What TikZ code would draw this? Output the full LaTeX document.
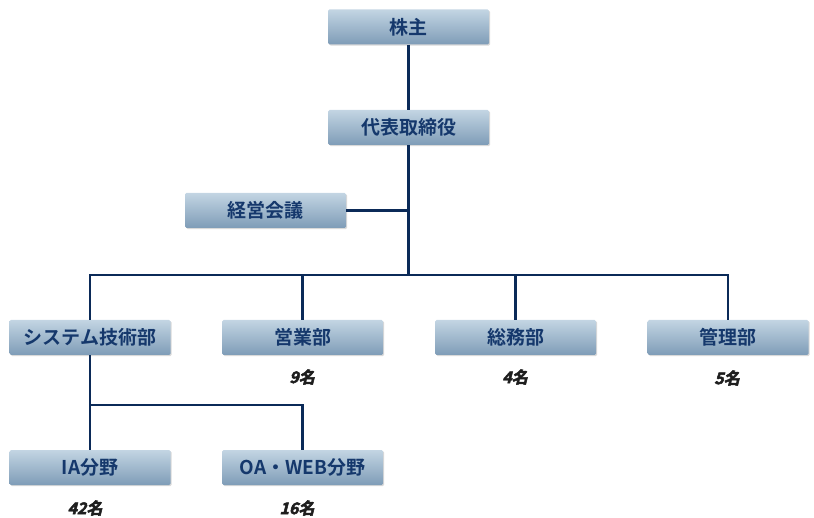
\documentclass[tikz,border=0pt]{standalone}
\usepackage{fontspec}
\usetikzlibrary{shadows}
\newfontfamily\jp{Noto Sans CJK JP}[UprightFont=* Bold]
\newfontfamily\jpcnt{Noto Sans CJK JP}[UprightFont=* Bold, FakeSlant=0.25, FakeBold=3]
\definecolor{boxtop}{HTML}{C3D5E3}
\definecolor{boxmid}{HTML}{A9C1D4}
\definecolor{boxbot}{HTML}{7E9CB7}
\definecolor{txt}{HTML}{15386C}
\definecolor{ln}{HTML}{0B2A58}
\definecolor{cnt}{HTML}{1E1E1E}
\tikzset{
  orgbox/.style={rectangle, rounded corners=1.5pt, minimum width=161pt, minimum height=35pt,
    top color=boxtop, middle color=boxmid, bottom color=boxbot, draw=none,
    drop shadow={shadow xshift=1.2pt, shadow yshift=-1.2pt, opacity=0.25, fill=black!60},
    font=\jp\fontsize{19pt}{19pt}\selectfont, text=txt, inner sep=0pt},
  conn/.style={draw=ln, line width=2.2pt},
  count/.style={font=\jpcnt\fontsize{16pt}{16pt}\selectfont, text=cnt, inner sep=0pt}
}
\begin{document}
\begin{tikzpicture}[x=1pt,y=-1pt]
\useasboundingbox (0,0) rectangle (814,518);
\node[orgbox] (kabu) at (408.5,27) {株主};
\node[orgbox] (daihyo) at (408.5,127.5) {代表取締役};
\node[orgbox] (keiei) at (265.5,210.5) {経営会議};
\node[orgbox] (sys) at (90,337.5) {システム技術部};
\node[orgbox] (eigyo) at (302.5,337.5) {営業部};
\node[orgbox] (somu) at (515.5,337.5) {総務部};
\node[orgbox] (kanri) at (728,337.5) {管理部};
\node[orgbox] (ia) at (90,467.5) {IA分野};
\node[orgbox] (oa) at (302.5,467.5) {OA・WEB分野};
\node[count] (c9) at (302,377) {9名};
\node[count] (c4) at (515,377) {4名};
\node[count] (c5) at (727,378) {5名};
\node[count] (c42) at (85,508) {42名};
\node[count] (c16) at (297,508) {16名};
\coordinate (bus) at (408.5,275);
\coordinate (sysj) at (91,405);
\draw[conn] (kabu.south) -- (daihyo.north);
\draw[conn] (daihyo.south) -- (bus);
\draw[conn] (keiei.east) -- (keiei.east -| daihyo.south);
\draw[conn] (sys.north) |- (bus) -| (kanri.north);
\draw[conn] (eigyo.north) -- (eigyo.north |- bus);
\draw[conn] (somu.north) -- (somu.north |- bus);
\draw[conn] (sys.south) -- (ia.north);
\draw[conn] (sysj) -| (oa.north);
\end{tikzpicture}
\end{document}
